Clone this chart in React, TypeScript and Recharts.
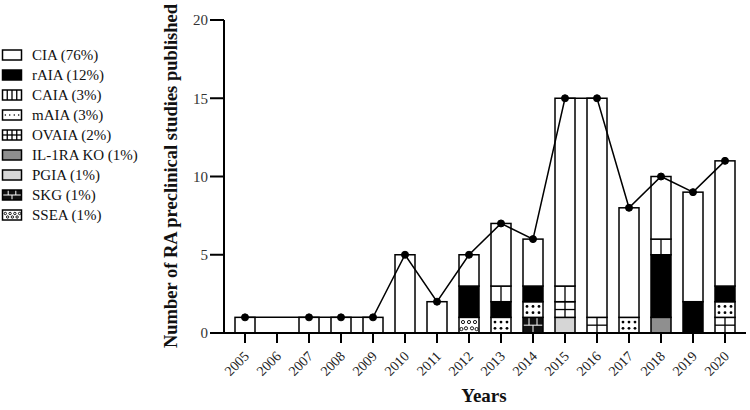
import React from 'react';
import { ComposedChart, Bar, Line, XAxis, YAxis, Label } from 'recharts';

const years = ['2005', '2006', '2007', '2008', '2009', '2010', '2011', '2012', '2013', '2014', '2015', '2016', '2017', '2018', '2019', '2020'];
const ciaValues = [1, 0, 1, 1, 1, 5, 2, 2, 4, 3, 12, 14, 7, 4, 7, 8];
const raiaValues = [0, 0, 0, 0, 0, 0, 0, 2, 1, 1, 0, 0, 0, 4, 2, 1];
const caiaValues = [0, 0, 0, 0, 0, 0, 0, 0, 1, 0, 1, 0, 0, 1, 0, 0];
const maiaValues = [0, 0, 0, 0, 0, 0, 0, 0, 1, 1, 0, 0, 1, 0, 0, 1];
const ovaiaValues = [0, 0, 0, 0, 0, 0, 0, 0, 0, 0, 1, 1, 0, 0, 0, 1];
const il1raValues = [0, 0, 0, 0, 0, 0, 0, 0, 0, 0, 0, 0, 0, 1, 0, 0];
const pgiaValues = [0, 0, 0, 0, 0, 0, 0, 0, 0, 0, 1, 0, 0, 0, 0, 0];
const skgValues = [0, 0, 0, 0, 0, 0, 0, 0, 0, 1, 0, 0, 0, 0, 0, 0];
const sseaValues = [0, 0, 0, 0, 0, 0, 0, 1, 0, 0, 0, 0, 0, 0, 0, 0];
const totalValues = [1, null, 1, 1, 1, 5, 2, 5, 7, 6, 15, 15, 8, 10, 9, 11];

const legendKeys = ['CIA', 'rAIA', 'CAIA', 'mAIA', 'OVAIA', 'IL1RA', 'PGIA', 'SKG', 'SSEA'];
const legendLabels = ['CIA (76%)', 'rAIA (12%)', 'CAIA (3%)', 'mAIA (3%)', 'OVAIA (2%)', 'IL-1RA KO (1%)', 'PGIA (1%)', 'SKG (1%)', 'SSEA (1%)'];
const stackOrder = ['SSEA', 'SKG', 'PGIA', 'IL1RA', 'OVAIA', 'mAIA', 'rAIA', 'CAIA', 'CIA'];
const yTicks = [0, 5, 10, 15, 20];

const data = years.map((year, i) => ({
  year,
  CIA: ciaValues[i],
  rAIA: raiaValues[i],
  CAIA: caiaValues[i],
  mAIA: maiaValues[i],
  OVAIA: ovaiaValues[i],
  IL1RA: il1raValues[i],
  PGIA: pgiaValues[i],
  SKG: skgValues[i],
  SSEA: sseaValues[i],
  total: totalValues[i],
}));

const FONT = '"Liberation Serif", "Times New Roman", serif';

function fillFor(kind: string) {
  if (kind === 'rAIA') return '#000';
  if (kind === 'SKG') return '#111';
  if (kind === 'PGIA') return '#d6d6d6';
  if (kind === 'IL1RA') return '#8f8f8f';
  return '#fff';
}

function renderSwatch(kind: string, x: number, y: number, w: number, h: number, legend: boolean, key?: any) {
  if (!(w > 0) || !(h > 0)) return <g key={key} />;
  const inner: any[] = [];
  const cy = y + h / 2;
  if (kind === 'CAIA') {
    const n = legend ? 4 : 2;
    for (let i = 1; i < n; i++) {
      inner.push(<line key={'v' + i} x1={x + (w * i) / n} x2={x + (w * i) / n} y1={y} y2={y + h} stroke="#000" strokeWidth={1.3} />);
    }
  } else if (kind === 'OVAIA') {
    const n = legend ? 4 : 2;
    for (let i = 1; i < n; i++) {
      inner.push(<line key={'v' + i} x1={x + (w * i) / n} x2={x + (w * i) / n} y1={y} y2={y + h} stroke="#000" strokeWidth={1.3} />);
    }
    inner.push(<line key="h" x1={x} x2={x + w} y1={cy} y2={cy} stroke="#000" strokeWidth={1.3} />);
  } else if (kind === 'mAIA') {
    const cols = legend ? [0.15, 0.38, 0.62, 0.85] : [0.2, 0.5, 0.8];
    const rows = legend ? [0.5] : [0.3, 0.7];
    rows.forEach((r, ri) =>
      cols.forEach((c, ci) =>
        inner.push(<circle key={'d' + ri + '-' + ci} cx={x + w * c} cy={y + h * r} r={legend ? 0.8 : 1.4} fill="#000" />)
      )
    );
  } else if (kind === 'SSEA') {
    const pts = legend
      ? [[0.15, 0.35], [0.4, 0.35], [0.65, 0.35], [0.9, 0.35], [0.27, 0.7], [0.52, 0.7], [0.77, 0.7]]
      : [[0.2, 0.3], [0.5, 0.3], [0.8, 0.3], [0.35, 0.7], [0.65, 0.7], [0.12, 0.75], [0.88, 0.75]];
    pts.forEach((p, i) =>
      inner.push(<circle key={'s' + i} cx={x + w * p[0]} cy={y + h * p[1]} r={legend ? 1.2 : 1.6} fill="none" stroke="#000" strokeWidth={0.9} />)
    );
  } else if (kind === 'SKG') {
    inner.push(<line key="h1" x1={x} x2={x + w} y1={cy} y2={cy} stroke="#fff" strokeWidth={1} />);
    inner.push(<line key="v1" x1={x + w * 0.3} x2={x + w * 0.3} y1={y} y2={cy} stroke="#fff" strokeWidth={1} />);
    inner.push(<line key="v2" x1={x + w * 0.7} x2={x + w * 0.7} y1={y} y2={cy} stroke="#fff" strokeWidth={1} />);
    inner.push(<line key="v3" x1={x + w * 0.5} x2={x + w * 0.5} y1={cy} y2={y + h} stroke="#fff" strokeWidth={1} />);
  }
  return (
    <g key={key}>
      <rect x={x} y={y} width={w} height={h} fill={fillFor(kind)} stroke="none" />
      {inner}
      <rect x={x} y={y} width={w} height={h} fill="none" stroke="#000" strokeWidth={1.5} />
    </g>
  );
}

function makeShape(kind: string) {
  return (props: any) => renderSwatch(kind, props.x, props.y, props.width, props.height, false);
}

function XTickLabel(props: any) {
  const { x, y, payload } = props;
  const ax = Number(x) + 5;
  const ay = Number(y) + 12;
  return (
    <text
      x={ax}
      y={ay}
      transform={'rotate(-45 ' + ax + ' ' + ay + ')'}
      textAnchor="end"
      fontSize={14}
      fontFamily={FONT}
      fill="#222"
    >
      {String(payload && payload.value)}
    </text>
  );
}

const YLabel = () => (
  <text x={177} y={176} transform="rotate(-90 177 176)" textAnchor="middle" fontSize={18.5} fontWeight="bold" fontFamily={FONT} fill="#111">
    Number of RA preclinical studies published
  </text>
);

const XLabel = () => (
  <text x={484} y={402} textAnchor="middle" fontSize={19} fontWeight="bold" fontFamily={FONT} fill="#111">
    Years
  </text>
);

function LegendBox() {
  return (
    <svg width={170} height={240} style={{ position: 'absolute', left: 0, top: 0 }}>
      {legendKeys.map((k, i) => {
        const cy = 55 + i * 20;
        return (
          <g key={k}>
            {renderSwatch(k, 2.5, cy - 5, 19, 10, true)}
            <text x={32} y={cy + 5} fontSize={15} fontFamily={FONT} fill="#111">
              {legendLabels[i]}
            </text>
          </g>
        );
      })}
    </svg>
  );
}

export default function App() {
  return (
    <div style={{ position: 'relative', width: 750, height: 410, background: '#fff', fontFamily: FONT }}>
      <style>{`body{margin:0;background:#fff;}`}</style>
      <ComposedChart width={750} height={410} data={data} margin={{ top: 20, right: 4, bottom: 17, left: 0 }} barSize={20}>
        <XAxis
          dataKey="year"
          padding={{ left: 5, right: 5 }}
          height={60}
          tickSize={10}
          axisLine={{ stroke: '#000', strokeWidth: 2 }}
          tickLine={{ stroke: '#000', strokeWidth: 2 }}
          tick={(p: any) => <XTickLabel {...p} />}
          interval={0}
        >
          <Label content={<XLabel />} />
        </XAxis>
        <YAxis
          domain={[0, 20]}
          ticks={yTicks}
          width={224}
          tickSize={14}
          axisLine={{ stroke: '#000', strokeWidth: 2 }}
          tickLine={{ stroke: '#000', strokeWidth: 2 }}
          tick={{ fontSize: 15, fontFamily: FONT, fill: '#333' }}
          allowDecimals={false}
        >
          <Label content={<YLabel />} />
        </YAxis>
        {stackOrder.map((k) => (
          <Bar key={k} dataKey={k} stackId="a" shape={makeShape(k)} isAnimationActive={false} />
        ))}
        <Line
          dataKey="total"
          type="linear"
          stroke="#000"
          strokeWidth={1.5}
          connectNulls
          dot={{ r: 3.5, fill: '#000', stroke: '#000', strokeWidth: 1 }}
          activeDot={false}
          isAnimationActive={false}
        />
      </ComposedChart>
      <LegendBox />
    </div>
  );
}
